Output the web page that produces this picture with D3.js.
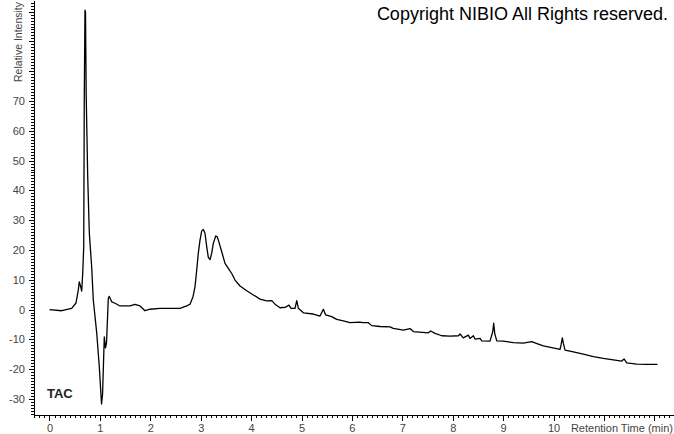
<!DOCTYPE html>
<meta charset="utf-8">
<style>
  body { margin: 0; background: #fff; }
  .axis text { font: 11px "Liberation Sans", Arial, sans-serif; fill: #444; }
  .axis path, .axis line { fill: none; stroke: #000; shape-rendering: crispEdges; }
  .trace { fill: none; stroke: #000; stroke-width: 1.3px; stroke-linejoin: round; }
</style>
<body>
<script src="https://cdn.jsdelivr.net/npm/d3@7"></script>
<script>
  // retention time (min) and relative intensity
  var times = [0, 0.242, 0.44, 0.526, 0.571, 0.591, 0.619, 0.639, 0.659, 0.679, 0.69, 0.704, 0.714, 0.728,
    0.758, 0.79, 0.837, 0.869, 0.937, 0.988, 1.032, 1.052, 1.087, 1.111, 1.131, 1.167, 1.187, 1.234,
    1.3, 1.399, 1.597, 1.696, 1.796, 1.895, 1.994, 2.192, 2.589, 2.722, 2.788, 2.847, 2.887, 2.921,
    2.952, 2.986, 3.02, 3.052, 3.085, 3.119, 3.151, 3.185, 3.218, 3.25, 3.298, 3.329, 3.369, 3.417,
    3.482, 3.548, 3.615, 3.681, 3.78, 3.913, 4.044, 4.177, 4.31, 4.409, 4.474, 4.573, 4.673, 4.752,
    4.792, 4.871, 4.905, 4.937, 5.036, 5.234, 5.367, 5.433, 5.48, 5.599, 5.698, 5.829, 5.962, 6.161,
    6.214, 6.325, 6.393, 6.558, 6.756, 6.821, 7.02, 7.153, 7.218, 7.516, 7.563, 7.649, 7.782, 7.946,
    8.111, 8.145, 8.21, 8.31, 8.343, 8.409, 8.442, 8.542, 8.575, 8.74, 8.794, 8.813, 8.833, 8.873,
    9.004, 9.202, 9.401, 9.567, 9.698, 9.798, 9.964, 10.129, 10.149, 10.175, 10.194, 10.228, 10.393,
    10.591, 10.79, 10.988, 11.187, 11.353, 11.399, 11.452, 11.651, 11.849, 12.06];
  var intensity = [0, -0.4, 0.4, 2.2, 6.5, 9.3, 7.7, 6.2, 12.2, 21.1, 70.3, 100.5, 99.8, 72,
    44.6, 25.7, 14.3, 3.2, -7.9, -19.2, -31.7, -28.7, -9.2, -12.9, -11.2, 3.8, 4.4, 2.6,
    2.1, 1.2, 1.2, 1.7, 1.2, -0.4, 0.1, 0.4, 0.4, 1.2, 1.8, 4.3, 7.7, 13.3,
    18.9, 23.3, 26.4, 26.9, 25.6, 21.1, 17.5, 16.8, 18.9, 22.2, 24.7, 24.4, 22.2, 19.4,
    15.5, 13.8, 12.1, 9.9, 7.9, 6.3, 4.9, 3.5, 2.9, 3.0, 1.8, 0.6, 0.7, 1.5,
    0.4, 0.4, 3.0, 0.4, -1.1, -1.5, -2.2, 0.1, -1.8, -2.4, -3.3, -3.8, -4.4, -4.2,
    -4.4, -4.4, -5.4, -5.7, -5.8, -6.3, -6.9, -6.4, -7.4, -7.8, -7.2, -8.0, -8.8, -8.9,
    -8.8, -8.2, -9.5, -8.6, -9.7, -8.8, -9.9, -9.7, -10.5, -10.6, -7.4, -4.6, -8.0, -10.5,
    -10.6, -11.1, -11.3, -10.8, -11.6, -12.2, -12.8, -13.4, -11.9, -9.5, -11.3, -13.6, -14.2,
    -15.0, -15.8, -16.4, -16.9, -17.3, -16.6, -17.9, -18.3, -18.4, -18.4];

  var xLabels = [0, 1, 2, 3, 4, 5, 6, 7, 8, 9, 10];
  var yLabels = [-30, -20, -10, 0, 10, 20, 30, 40, 50, 60, 70];

  var width = 674, height = 434;

  var svg = d3.select("body").append("svg")
    .attr("width", width)
    .attr("height", height);

  var x = d3.scaleLinear().domain([-0.3075, 12.37]).range([34, 673]);
  var y = d3.scaleLinear().domain([-35.4, 103.9]).range([415, 0]);

  // minor ticks
  var xMinor = d3.range(-3, 124).map(function(d){ return d / 10; });
  var yMinor = d3.range(-35, 104);

  svg.append("g")
    .attr("class", "axis")
    .attr("transform", "translate(0,415)")
    .call(d3.axisBottom(x).tickValues(xMinor).tickSize(3).tickFormat("").tickSizeOuter(0));

  svg.append("g")
    .attr("class", "axis")
    .attr("transform", "translate(0,415)")
    .call(d3.axisBottom(x).tickValues(d3.range(0, 13)).tickSize(6).tickPadding(3)
      .tickFormat(function(d){ return xLabels.indexOf(d) >= 0 ? d : ""; }))
    .call(function(g){ g.select(".domain").remove(); });

  svg.append("g")
    .attr("class", "axis")
    .attr("transform", "translate(34,0)")
    .call(d3.axisLeft(y).tickValues(yMinor).tickSize(3).tickFormat("").tickSizeOuter(0));

  svg.append("g")
    .attr("class", "axis")
    .attr("transform", "translate(34,0)")
    .call(d3.axisLeft(y).tickValues(d3.range(-30, 101, 10)).tickSize(5).tickPadding(4)
      .tickFormat(function(d){ return yLabels.indexOf(d) >= 0 ? d : ""; }))
    .call(function(g){ g.select(".domain").remove(); });

  svg.append("text")
    .attr("transform", "translate(22,2) rotate(-90)")
    .attr("text-anchor", "end")
    .style("font", "10.5px 'Liberation Sans', Arial, sans-serif")
    .style("fill", "#444")
    .text("Relative Intensity");

  svg.append("text")
    .attr("x", 673).attr("y", 432)
    .attr("text-anchor", "end")
    .style("font", "11px 'Liberation Sans', Arial, sans-serif")
    .style("fill", "#444")
    .text("Retention Time (min)");

  svg.append("text")
    .attr("x", 668).attr("y", 20)
    .attr("text-anchor", "end")
    .style("font", "18px 'Liberation Sans', Arial, sans-serif")
    .style("fill", "#000")
    .text("Copyright NIBIO All Rights reserved.");

  svg.append("text")
    .attr("x", 47).attr("y", 398)
    .style("font", "bold 13px 'Liberation Sans', Arial, sans-serif")
    .style("fill", "#222")
    .text("TAC");

  var line = d3.line()
    .x(function(d, i){ return x(times[i]); })
    .y(function(d){ return y(d); });

  svg.append("path")
    .attr("class", "trace")
    .attr("d", line(intensity));
</script>
</body>
